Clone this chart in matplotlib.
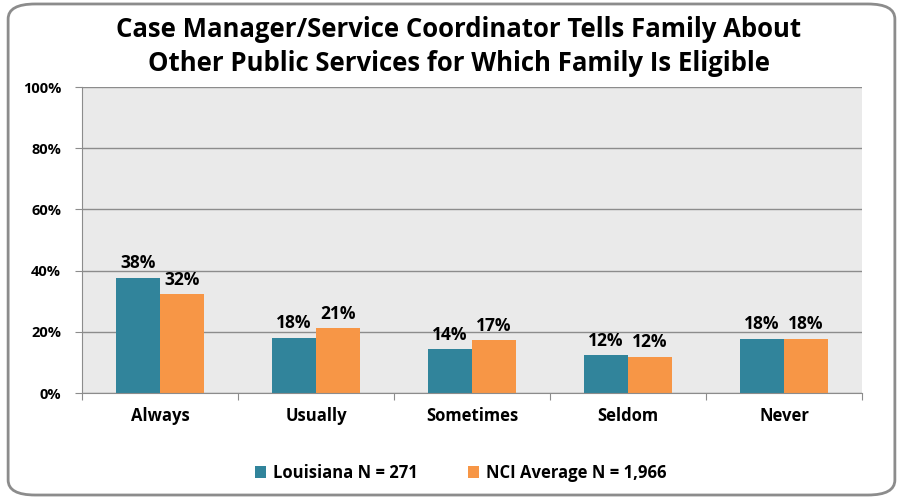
import numpy as np
import matplotlib.pyplot as plt
from matplotlib.patches import FancyBboxPatch

categorias = ['Always', 'Usually', 'Sometimes', 'Seldom', 'Never']
louisiana = [37.6, 18.1, 14.3, 12.3, 17.7]
nci = [32.3, 21.1, 17.3, 11.9, 17.7]
series = ['Louisiana N = 271', 'NCI Average N = 1,966']
colores = ['#31849B', '#F79646']

plt.rcParams['font.family'] = ['Open Sans', 'DejaVu Sans']
plt.rcParams['font.weight'] = 'bold'

fig = plt.figure(figsize=(9.03, 4.98), dpi=100)
# marco redondeado de la figura
marco = FancyBboxPatch((0.009, 0.006), 0.982, 0.986, boxstyle='round,pad=0,rounding_size=0.03',
                       transform=fig.transFigure, fill=False, edgecolor='#8C8C8C', linewidth=2)
fig.patches.append(marco)

ax = fig.add_axes([82/903, 1-393/498, 780/903, 306/498])
ax.set_facecolor('#EAEAEA')

x = np.arange(len(categorias))
w = 0.282
b1 = ax.bar(x - w/2, louisiana, w, color=colores[0], label=series[0])
b2 = ax.bar(x + w/2, nci, w, color=colores[1], label=series[1])

for barras, vals in ((b1, louisiana), (b2, nci)):
    for rect, v in zip(barras, vals):
        ax.text(rect.get_x() + rect.get_width()/2, v + 1.8, f'{round(v):.0f}%',
                ha='center', va='bottom', fontsize=12.5, fontweight='bold')

ax.set_xlim(-0.5, len(categorias) - 0.5)
ax.set_ylim(0, 100)
ax.set_yticks(np.arange(0, 101, 20))
ax.set_yticklabels([f'{v}%' for v in range(0, 101, 20)], fontsize=10.5, fontweight='bold')
ax.yaxis.grid(True, color='#8C8C8C', linewidth=1)
ax.set_axisbelow(True)

ax.set_xticks(np.arange(-0.5, len(categorias), 1))
ax.set_xticklabels([])
ax.set_xticks(x, minor=True)
ax.set_xticklabels(categorias, minor=True, fontsize=12, fontweight='bold')
ax.tick_params(axis='x', which='minor', length=0, pad=10)
ax.tick_params(axis='x', which='major', length=5, color='#8C8C8C', direction='out')
ax.tick_params(axis='y', length=5, color='#8C8C8C', pad=10)

for lado in ('top', 'right'):
    ax.spines[lado].set_visible(False)
for lado in ('left', 'bottom'):
    ax.spines[lado].set_color('#8C8C8C')

fig.text(0.508, 0.907, 'Case Manager/Service Coordinator Tells Family About\nOther Public Services for Which Family Is Eligible',
         ha='center', va='center', fontsize=18.5, fontweight='bold', linespacing=1.35)

fig.legend(handles=[b1, b2], labels=series, loc='center', bbox_to_anchor=(0.51, 0.05),
           ncol=2, frameon=False, fontsize=12, handlelength=0.7, handleheight=0.7,
           columnspacing=3, handletextpad=0.4)

fig.savefig('out.png', dpi=100)
